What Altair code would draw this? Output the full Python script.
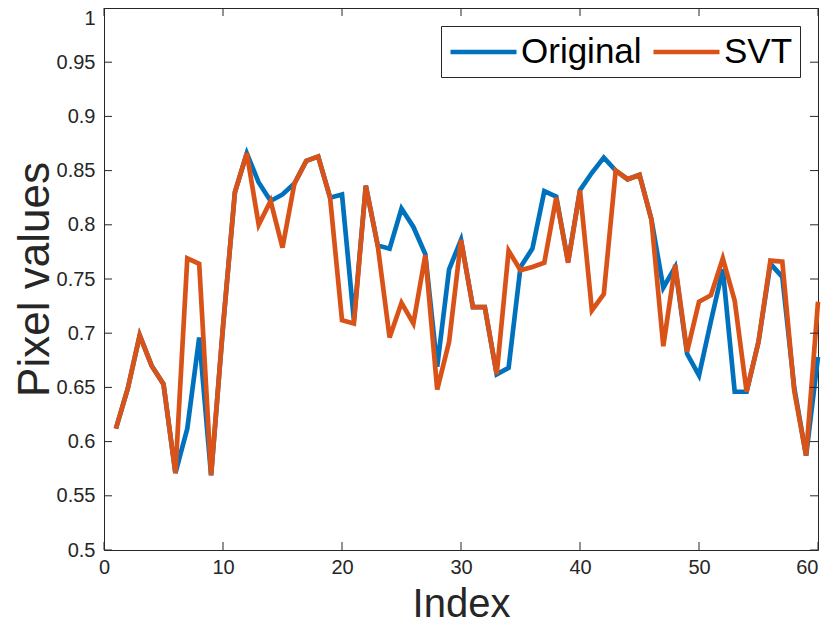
import altair as alt
import pandas as pd

index = list(range(1, 61))
original = [0.612, 0.649, 0.698, 0.670, 0.653, 0.571, 0.612, 0.696, 0.569, 0.706,
            0.830, 0.866, 0.839, 0.822, 0.828, 0.838, 0.859, 0.863, 0.825, 0.828,
            0.712, 0.836, 0.781, 0.778, 0.815, 0.798, 0.773, 0.669, 0.759, 0.786,
            0.724, 0.724, 0.662, 0.668, 0.761, 0.778, 0.831, 0.826, 0.766, 0.832,
            0.848, 0.862, 0.850, 0.842, 0.846, 0.805, 0.742, 0.761, 0.681, 0.661,
            0.711, 0.759, 0.646, 0.646, 0.692, 0.764, 0.752, 0.650, 0.587, 0.678]
svt = [0.612, 0.649, 0.698, 0.670, 0.653, 0.571, 0.769, 0.764, 0.569, 0.706,
       0.830, 0.866, 0.800, 0.822, 0.779, 0.838, 0.859, 0.863, 0.825, 0.712,
       0.709, 0.836, 0.781, 0.696, 0.728, 0.709, 0.772, 0.648, 0.692, 0.786,
       0.724, 0.724, 0.662, 0.776, 0.758, 0.761, 0.765, 0.825, 0.765, 0.832,
       0.721, 0.736, 0.850, 0.842, 0.846, 0.805, 0.688, 0.763, 0.683, 0.729,
       0.735, 0.769, 0.730, 0.646, 0.692, 0.767, 0.766, 0.647, 0.587, 0.729]
series_names = ["Original", "SVT"]
series_colors = ["#0072BD", "#D95319"]
x_ticks = [0, 10, 20, 30, 40, 50, 60]
y_ticks = [0.5, 0.55, 0.6, 0.65, 0.7, 0.75, 0.8, 0.85, 0.9, 0.95, 1.0]

df = pd.DataFrame({
    "Index": index * 2,
    "value": original + svt,
    "series": [series_names[0]] * len(original) + [series_names[1]] * len(svt),
})
xt = pd.DataFrame({"Index": x_ticks})
yt = pd.DataFrame({"value": y_ticks})

W, H = 714, 542
PAD_L, PAD_R, PAD_B = 96, 4, 74
TL = 8
AX = "#262626"
FONT = "Liberation Sans"

xs = alt.Scale(domain=[0, 60], nice=False)
ys = alt.Scale(domain=[0.5, 1], nice=False, zero=False)

x_axis = alt.Axis(values=x_ticks, title="Index", labelFlush=False,
                  labelPadding=7, titleY=66, titleBaseline="alphabetic", titleFontSize=40,
                  labelAlign={"condition": {"test": "datum.value == 60", "value": "right"},
                              "value": "center"})
y_axis = alt.Axis(values=y_ticks, title="Pixel values", format=".2~f",
                  labelPadding=9, titleX=-56, titleBaseline="alphabetic", titleFontSize=44,
                  labelBaseline={"condition": {"test": "datum.value == 1", "value": "top"},
                                 "value": "middle"})

SYM = 33
lines = alt.Chart(df).mark_line(strokeWidth=4.7).encode(
    x=alt.X("Index:Q", scale=xs, axis=x_axis),
    y=alt.Y("value:Q", scale=ys, axis=y_axis),
    color=alt.Color("series:N",
                    scale=alt.Scale(domain=series_names, range=series_colors),
                    legend=alt.Legend(title=None, orient="top-right", direction="horizontal",
                                      offset=18, symbolType="M-2,0H2", symbolSize=SYM * SYM,
                                      symbolOffset=SYM / 2, symbolStrokeWidth=4.7,
                                      labelFontSize=35, labelFont=FONT, labelColor="black",
                                      strokeColor=AX, fillColor="white",
                                      padding=7, columnPadding=2, labelOffset=18.5,
                                      labelLimit=300)),
)

bottom_ticks = alt.Chart(xt).mark_rule(color=AX, strokeWidth=1).encode(
    x=alt.X("Index:Q", scale=xs, axis=x_axis), y=alt.value(H), y2=alt.value(H - TL))
top_ticks = alt.Chart(xt).mark_rule(color=AX, strokeWidth=1).encode(
    x=alt.X("Index:Q", scale=xs, axis=x_axis), y=alt.value(0), y2=alt.value(TL))
left_ticks = alt.Chart(yt).mark_rule(color=AX, strokeWidth=1).encode(
    y=alt.Y("value:Q", scale=ys, axis=y_axis), x=alt.value(0), x2=alt.value(TL))
right_ticks = alt.Chart(yt).mark_rule(color=AX, strokeWidth=1).encode(
    y=alt.Y("value:Q", scale=ys, axis=y_axis), x=alt.value(W), x2=alt.value(W - TL))

chart = alt.layer(lines, bottom_ticks, top_ticks, left_ticks, right_ticks).properties(
    width=W, height=H,
    autosize=alt.AutoSizeParams(type="none"),
    padding={"left": PAD_L, "top": 0, "right": PAD_R, "bottom": PAD_B},
    background="white",
).configure_view(
    stroke=AX, strokeWidth=1
).configure_axis(
    domain=False, ticks=False, grid=False,
    labelFont=FONT, labelFontSize=20, labelColor=AX,
    titleFont=FONT, titleFontSize=44, titleFontWeight="normal", titleColor=AX,
)

chart.save("out.html", embed_options={"renderer": "svg", "actions": False})
